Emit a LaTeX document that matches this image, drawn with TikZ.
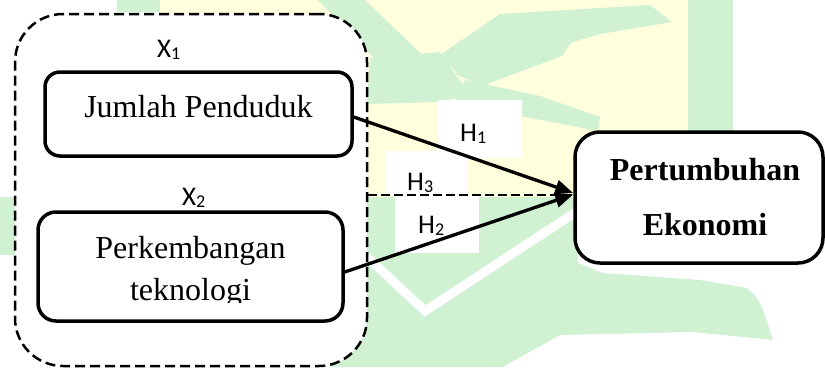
\documentclass[tikz,border=0pt]{standalone}
\usepackage{fontspec}
\setmainfont{Liberation Serif}
\newfontfamily\labelfont{Carlito}
\usetikzlibrary{arrows.meta}

\definecolor{wmgreen}{RGB}{208,241,210}
\definecolor{wmyellow}{RGB}{255,255,222}

\tikzset{
  groupbox/.style={draw=black, line width=2.5pt, dash pattern=on 10pt off 5pt,
    fill=white, rounded corners=48pt, inner sep=0pt},
  varbox/.style={draw=black, line width=3.5pt, fill=white, inner sep=0pt},
  tagbox/.style={fill=white, inner sep=0pt},
  bodytext/.style={font=\fontsize{32}{40}\selectfont, anchor=base, inner sep=0pt},
  tagtext/.style={font=\labelfont\fontsize{27}{30}\selectfont, anchor=base west, inner sep=0pt},
  link/.style={line width=3.3pt, -{Triangle[length=18pt,width=14pt]}},
  dashlink/.style={line width=2.5pt, dash pattern=on 9pt off 4pt},
}
\newcommand{\subidx}[1]{\raisebox{-2.5pt}{\fontsize{18}{18}\selectfont #1}}

\begin{document}
\begin{tikzpicture}[x=1pt, y=-1pt]
\useasboundingbox (0,0) rectangle (825,367);

% faint background emblem
\fill[wmyellow] (160,0) rectangle (688,197);
\fill[wmgreen] (117,0) rectangle (160,12);
\fill[wmgreen] (0,197) rectangle (15,255);
\fill[wmgreen] (688,0) rectangle (733,140);
% leaves
\fill[wmgreen] (318,0) -- (365,0) -- (440,72) -- (430,98) -- (405,90) -- cycle;
\fill[wmgreen] (370,58) -- (440,52) -- (470,95) -- (438,102) -- (367,104) -- cycle;
\fill[wmgreen] (440,55) -- (500,14) -- (650,5) -- (672,22) -- (600,34) -- (460,76) -- cycle;
\fill[wmgreen] (455,74) -- (530,50) -- (576,36) -- (562,56) -- (482,86) -- cycle;
\fill[wmgreen] (465,80) -- (540,96) -- (600,117) -- (598,131) -- (520,116) -- (455,101) -- cycle;
% lower sweep
\fill[wmgreen] (330,197) -- (578,197) -- (578,263) -- (603,273) -- (700,280)
  -- (747,288) .. controls (760,300) .. (773,340) -- (693,332) -- (560,335)
  -- (503,367) -- (330,367) -- cycle;
\draw[white, line width=9pt, line join=miter] (367,257) -- (425,311) -- (576,212);

% grouping frame and variable boxes
\node[groupbox, minimum width=352pt, minimum height=352pt] (group) at (191,190) {};
\node[varbox, rounded corners=15pt, minimum width=307pt, minimum height=84pt] (jp) at (198.5,114) {};
\node[varbox, rounded corners=18pt, minimum width=305pt, minimum height=109pt] (pt) at (190.5,266.5) {};
\node[varbox, rounded corners=25pt, minimum width=248pt, minimum height=131pt] (pe) at (699,197.5) {};

% label backgrounds
\node[tagbox, minimum width=84pt, minimum height=58pt] (h1b) at (480,129) {};
\node[tagbox, minimum width=81pt, minimum height=44pt] (h3b) at (426.5,173) {};
\node[tagbox, minimum width=84pt, minimum height=58pt] (h2b) at (437,224) {};

% connectors
\draw[dashlink] ([yshift=-5pt]group.east) -- ([yshift=2.5pt]pe.west);
\draw[link] ([yshift=-3pt]jp.east) -- ([yshift=4.5pt]pe.west);
\draw[link] ([yshift=-5.5pt]pt.east) -- ([yshift=3pt]pe.west);

% texts
\node[bodytext] (t1) at (198.5,117) {Jumlah Penduduk};
\node[bodytext] (t2a) at (190.5,258) {Perkembangan};
\begin{scope}
  \clip (38,212) rectangle (343,302);
  \node[bodytext] (t2b) at (190.5,300) {teknologi};
\end{scope}
\node[bodytext, font=\fontsize{32}{40}\selectfont\bfseries] (t3a) at (705,180) {Pertumbuhan};
\node[bodytext, font=\fontsize{32}{40}\selectfont\bfseries] (t3b) at (705,235) {Ekonomi};

\node[tagtext] (x1) at (157,57) {X\subidx{1}};
\node[tagtext] (x2) at (182,205) {X\subidx{2}};
\node[tagtext] (h1) at (460,141) {H\subidx{1}};
\node[tagtext] (h3) at (407,190) {H\subidx{3}};
\node[tagtext] (h2) at (418,233) {H\subidx{2}};
\end{tikzpicture}
\end{document}
